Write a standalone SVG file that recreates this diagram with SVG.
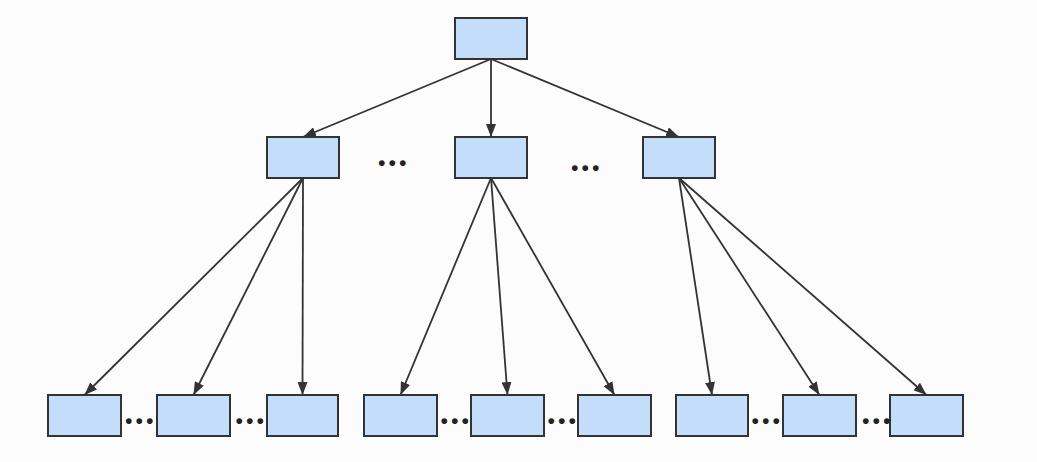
<svg xmlns="http://www.w3.org/2000/svg" width="1037" height="462" viewBox="0 0 1037 462">
<defs>
<style>
.box{fill:#c4ddfb;stroke:#333;stroke-width:2}
.edge{stroke:#333;stroke-width:1.8;fill:none;marker-end:url(#ah)}
.dots{font-family:Lato,"Liberation Sans",sans-serif;font-weight:bold;font-size:38px;letter-spacing:1.5px;fill:#222;text-anchor:middle}
</style>
<marker id="ah" viewBox="0 0 13 10" refX="13" refY="5" markerWidth="13" markerHeight="10" markerUnits="userSpaceOnUse" orient="auto">
<path d="M0,0 L13,5 L0,10 Z" fill="#333"/>
</marker>
</defs>
<rect width="1037" height="462" fill="#fcfcfc"/>
<g id="connectors">
<line class="edge" x1="491" y1="59" x2="303" y2="137"/>
<line class="edge" x1="491" y1="59" x2="491" y2="137"/>
<line class="edge" x1="491" y1="59" x2="679" y2="137"/>
<line class="edge" x1="303" y1="178" x2="84.5" y2="395"/>
<line class="edge" x1="303" y1="178" x2="193.5" y2="395"/>
<line class="edge" x1="303" y1="178" x2="302.5" y2="395"/>
<line class="edge" x1="491" y1="178" x2="400.5" y2="395"/>
<line class="edge" x1="491" y1="178" x2="507.5" y2="395"/>
<line class="edge" x1="491" y1="178" x2="614.5" y2="395"/>
<line class="edge" x1="679" y1="178" x2="712" y2="395"/>
<line class="edge" x1="679" y1="178" x2="819.5" y2="395"/>
<line class="edge" x1="679" y1="178" x2="926.5" y2="395"/>
</g>
<g id="root"><rect class="box" x="455" y="18" width="72" height="41"/></g>
<g id="mid1"><rect class="box" x="267" y="137" width="72" height="41"/></g>
<g id="mid2"><rect class="box" x="455" y="137" width="72" height="41"/></g>
<g id="mid3"><rect class="box" x="643" y="137" width="72" height="41"/></g>
<g id="leaf1"><rect class="box" x="48" y="395" width="73" height="41"/></g>
<g id="leaf2"><rect class="box" x="157" y="395" width="73" height="41"/></g>
<g id="leaf3"><rect class="box" x="267" y="395" width="71" height="41"/></g>
<g id="leaf4"><rect class="box" x="364" y="395" width="73" height="41"/></g>
<g id="leaf5"><rect class="box" x="471" y="395" width="73" height="41"/></g>
<g id="leaf6"><rect class="box" x="578" y="395" width="73" height="41"/></g>
<g id="leaf7"><rect class="box" x="676" y="395" width="72" height="41"/></g>
<g id="leaf8"><rect class="box" x="783" y="395" width="73" height="41"/></g>
<g id="leaf9"><rect class="box" x="890" y="395" width="73" height="41"/></g>
<g id="ellipses">
<text class="dots" x="393" y="166">...</text>
<text class="dots" x="586" y="171">...</text>
<text class="dots" x="140" y="424">...</text>
<text class="dots" x="250.5" y="424">...</text>
<text class="dots" x="455.5" y="424">...</text>
<text class="dots" x="562.5" y="424">...</text>
<text class="dots" x="766.5" y="424">...</text>
<text class="dots" x="877" y="424">...</text>
</g>
</svg>
